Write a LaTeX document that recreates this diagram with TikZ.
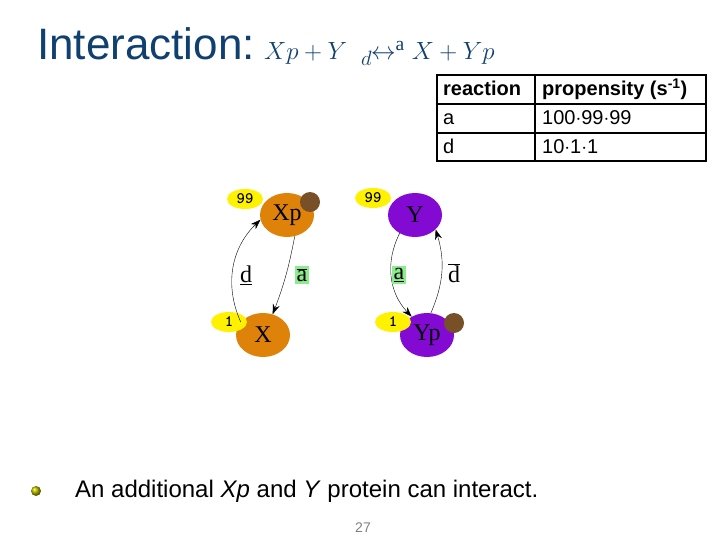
\documentclass[tikz,border=0pt]{standalone}
\usepackage{fontspec}
\setmainfont{Liberation Serif}
\setsansfont{Liberation Sans}
\usepackage{tikz}
\usetikzlibrary{arrows.meta, positioning, shapes.geometric}
\definecolor{titleblue}{RGB}{16,64,112}
\definecolor{orangep}{RGB}{222,130,10}
\definecolor{purplep}{RGB}{130,10,210}
\definecolor{brownball}{RGB}{120,80,40}
\definecolor{greenlab}{RGB}{140,235,140}
\begin{document}
\begin{tikzpicture}[x=1pt, y=-1pt,
		prot/.style={ellipse, minimum width=54pt, minimum height=44pt, inner sep=0pt, font=\fontsize{24}{24}\selectfont},
		ball/.style={circle, minimum size=20pt, inner sep=0pt, fill=brownball},
		count/.style={ellipse, fill=yellow, minimum width=36pt, minimum height=20pt, inner sep=0pt, font=\ttfamily\bfseries\fontsize{16}{16}\selectfont},
		arrow/.style={-{Stealth[length=10pt, width=7pt]}, thin},
		lab/.style={font=\fontsize{24}{24}\selectfont}
		]
		\useasboundingbox (0,0) rectangle (720,540);
		
		% Title
		\node[anchor=base west, inner sep=0pt, text=titleblue, font=\sffamily\fontsize{44}{44}\selectfont] (title) at (37,60) {Interaction:};
		\node[anchor=base west, inner sep=0pt, text=titleblue, font=\fontsize{28}{28}\selectfont] (reac) at (264,60)
			{$Xp + Y\ \ _{d}\!\!\leftrightarrow^{\mathrm{a}} X + Yp$};
		
		% Table
		\draw[line width=1.5pt] (437,75) rectangle (706,161);
		\draw[line width=1.5pt] (535,75) -- (535,161);
		\draw[line width=1.5pt] (437,104) -- (706,104);
		\draw[line width=1.5pt] (437,133) -- (706,133);
		\begin{scope}[every node/.style={anchor=base west, inner sep=0pt, font=\sffamily\fontsize{20}{20}\selectfont}]
			\node[font=\sffamily\bfseries\fontsize{20}{20}\selectfont] (h1) at (443,96) {reaction};
			\node[font=\sffamily\bfseries\fontsize{20}{20}\selectfont] (h2) at (542,96) {propensity (s\textsuperscript{-1})};
			\node (ra) at (443,125) {a};
			\node (pa) at (542,125) {100$\cdot$99$\cdot$99};
			\node (rd) at (443,154) {d};
			\node (pd) at (542,154) {10$\cdot$1$\cdot$1};
		\end{scope}
		
		% Proteins
		\node[prot, fill=orangep] (Xp) at (287,215) {Xp};
		\node[ball] (ballXp) at (310,202) {};
		\node[prot, fill=purplep] (Y) at (415,215) {Y};
		\node[prot, fill=orangep] (X) at (263,335) {X};
		\node[prot, fill=purplep] (Yp) at (427,335) {Yp};
		\node[ball] (ballYp) at (454,323) {};
		
		% Counts
		\node[count] (cXp) at (245,199) {99};
		\node[count] (cY) at (373,198) {99};
		\node[count] (cX) at (229,322) {1};
		\node[count] (cYp) at (393,322) {1};
		
		% Arrows
		\draw[arrow] (X.150) to[bend left=35] (Xp.190);
		\draw[arrow] (Xp.290) to[bend left=5] (X.65);
		\draw[arrow] (Y.230) to[bend right=35] (Yp.130);
		\draw[arrow] (Yp.80) to[bend right=20] (Y.325);
		
		% Labels
		\node[lab] (ld) at (246,275) {$\underline{\mathrm{d}}$};
		\node[lab, fill=greenlab, inner sep=2pt] (la) at (302,275) {$\overline{\mathrm{a}}$};
		\node[lab, fill=greenlab, inner sep=2pt] (la2) at (399,275) {$\underline{\mathrm{a}}$};
		\node[lab] (ld2) at (454,273) {$\overline{\mathrm{d}}$};
		
		% Bullet text
		\shade[ball color=olive!60!yellow] (36,491) circle (5pt);
		\node[anchor=base west, inner sep=0pt, font=\sffamily\fontsize{24}{24}\selectfont] (note) at (75,497)
			{An additional \textit{Xp} and \textit{Y} protein can interact.};
		\node[text=gray, font=\sffamily\fontsize{14}{14}\selectfont] (page) at (363,528) {27};
		
	\end{tikzpicture}
\end{document}
